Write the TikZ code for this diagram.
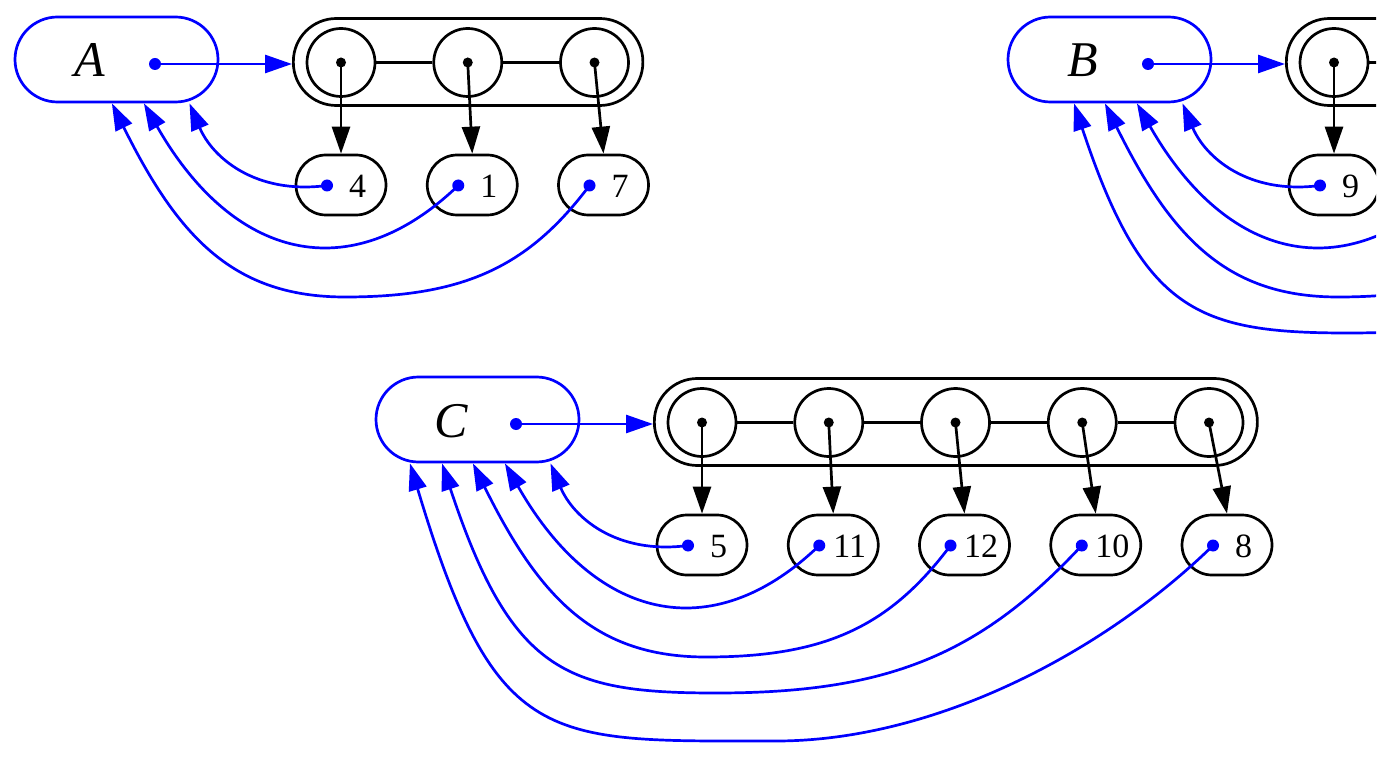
\documentclass[tikz,border=0pt]{standalone}
\usepackage{fontspec}
\setmainfont{Liberation Serif}
\usetikzlibrary{arrows.meta,calc}
\definecolor{ptrblue}{RGB}{0,0,255}
\tikzset{
  owner/.style={draw=ptrblue, line width=2.7pt, rounded corners=42.5pt,
    minimum width=203pt, minimum height=85pt, inner sep=0pt},
  ownerlabel/.style={font=\fontsize{50}{50}\selectfont\itshape, inner sep=0pt, anchor=base},
  shell/.style={draw, line width=2.7pt, rounded corners=43pt,
    minimum height=87pt, inner sep=0pt, anchor=west},
  slot/.style={draw, circle, line width=2.7pt, minimum size=68pt, inner sep=0pt},
  item/.style={draw, line width=2.7pt, rounded corners=30pt,
    minimum width=90pt, minimum height=60pt, inner sep=0pt},
  itemlabel/.style={font=\fontsize{34}{34}\selectfont, inner sep=0pt, anchor=base},
  bdot/.style={circle, fill=ptrblue, minimum size=12pt, inner sep=0pt},
  kdot/.style={circle, fill=black, minimum size=10pt, inner sep=0pt},
  link/.style={line width=2.7pt},
  down/.style={line width=2.7pt, -{Triangle[length=27pt,width=18pt]}},
  back/.style={draw=ptrblue, line width=2.7pt,
    -{Triangle[length=27pt,width=18pt,fill=ptrblue]}},
}
% #1 name, #2 origin, #3 letter, #4 number of slots, #5 values
\newcommand\listset[5]{%
  \begin{scope}[shift={#2}]
    \node[owner] (#1) at (101.5,42.5) {};
    \node[ownerlabel] (#1-name) at (75,60) {#3};
    \node[bdot] (#1-ptr) at (140,47) {};
    \node[shell, minimum width={96+(#4-1)*126.75}] (#1-shell) at (277,45) {};
    \foreach \v [count=\i] in {#5} {
      \node[slot] (#1-c\i) at ({326+(\i-1)*126.75},45.5) {};
      \node[kdot] (#1-k\i) at (#1-c\i.center) {};
      \node[item] (#1-v\i) at ({326+(\i-1)*131.25},168) {};
      \node[itemlabel] (#1-t\i) at ({342.5+(\i-1)*131.25},180.5) {\v};
      \node[bdot] (#1-p\i) at ({312+(\i-1)*131.25},168.5) {};
      \draw[down] (#1-k\i.center) -- (#1-v\i.north);
    }
    \foreach \i [evaluate=\i as \j using int(\i-1)] in {2,...,#4} {
      \draw[link] (#1-c\j.east) -- (#1-c\i.west);
    }
    \draw[back] (#1-ptr.center) -- (#1-ptr -| #1-shell.west);
    % back pointers from each value to its owner
    \draw[back] (#1-p1.center) .. controls (240,178) and (197,140) .. (#1.-31);
    \ifnum#4>1
      \draw[back] (#1-p2.center) .. controls (335,272.5) and (218,242.6) .. (#1.-58);
    \fi
    \ifnum#4>2
      \draw[back] (#1-p3.center) .. controls (514,249) and (450,280) .. (330,280)
        .. controls (220,280) and (164,222) .. (#1.-96);
    \fi
    \ifnum#4>3
      \draw[back] (#1-p4.center) .. controls (603,279) and (510,316) .. (340,316)
        .. controls (190,316) and (135,295) .. (#1.-129);
    \fi
    \ifnum#4>4
      \draw[back] (#1-p5.center) .. controls (729,274) and (560,364) .. (400,364)
        .. controls (170,364) and (120,373) .. (#1.-147);
    \fi
  \end{scope}
}
\begin{document}
\begin{tikzpicture}[x=1pt,y=-1pt]
  \useasboundingbox (0,0) rectangle (1389,759);
  \clip (0,0) rectangle (1376,759);
  \listset{A}{(15,17)}{A}{3}{4,1,7}
  \listset{B}{(1008,17)}{B}{4}{9,{},{},{}}
  \listset{C}{(376,377)}{C}{5}{5,11,12,10,8}
\end{tikzpicture}
\end{document}
